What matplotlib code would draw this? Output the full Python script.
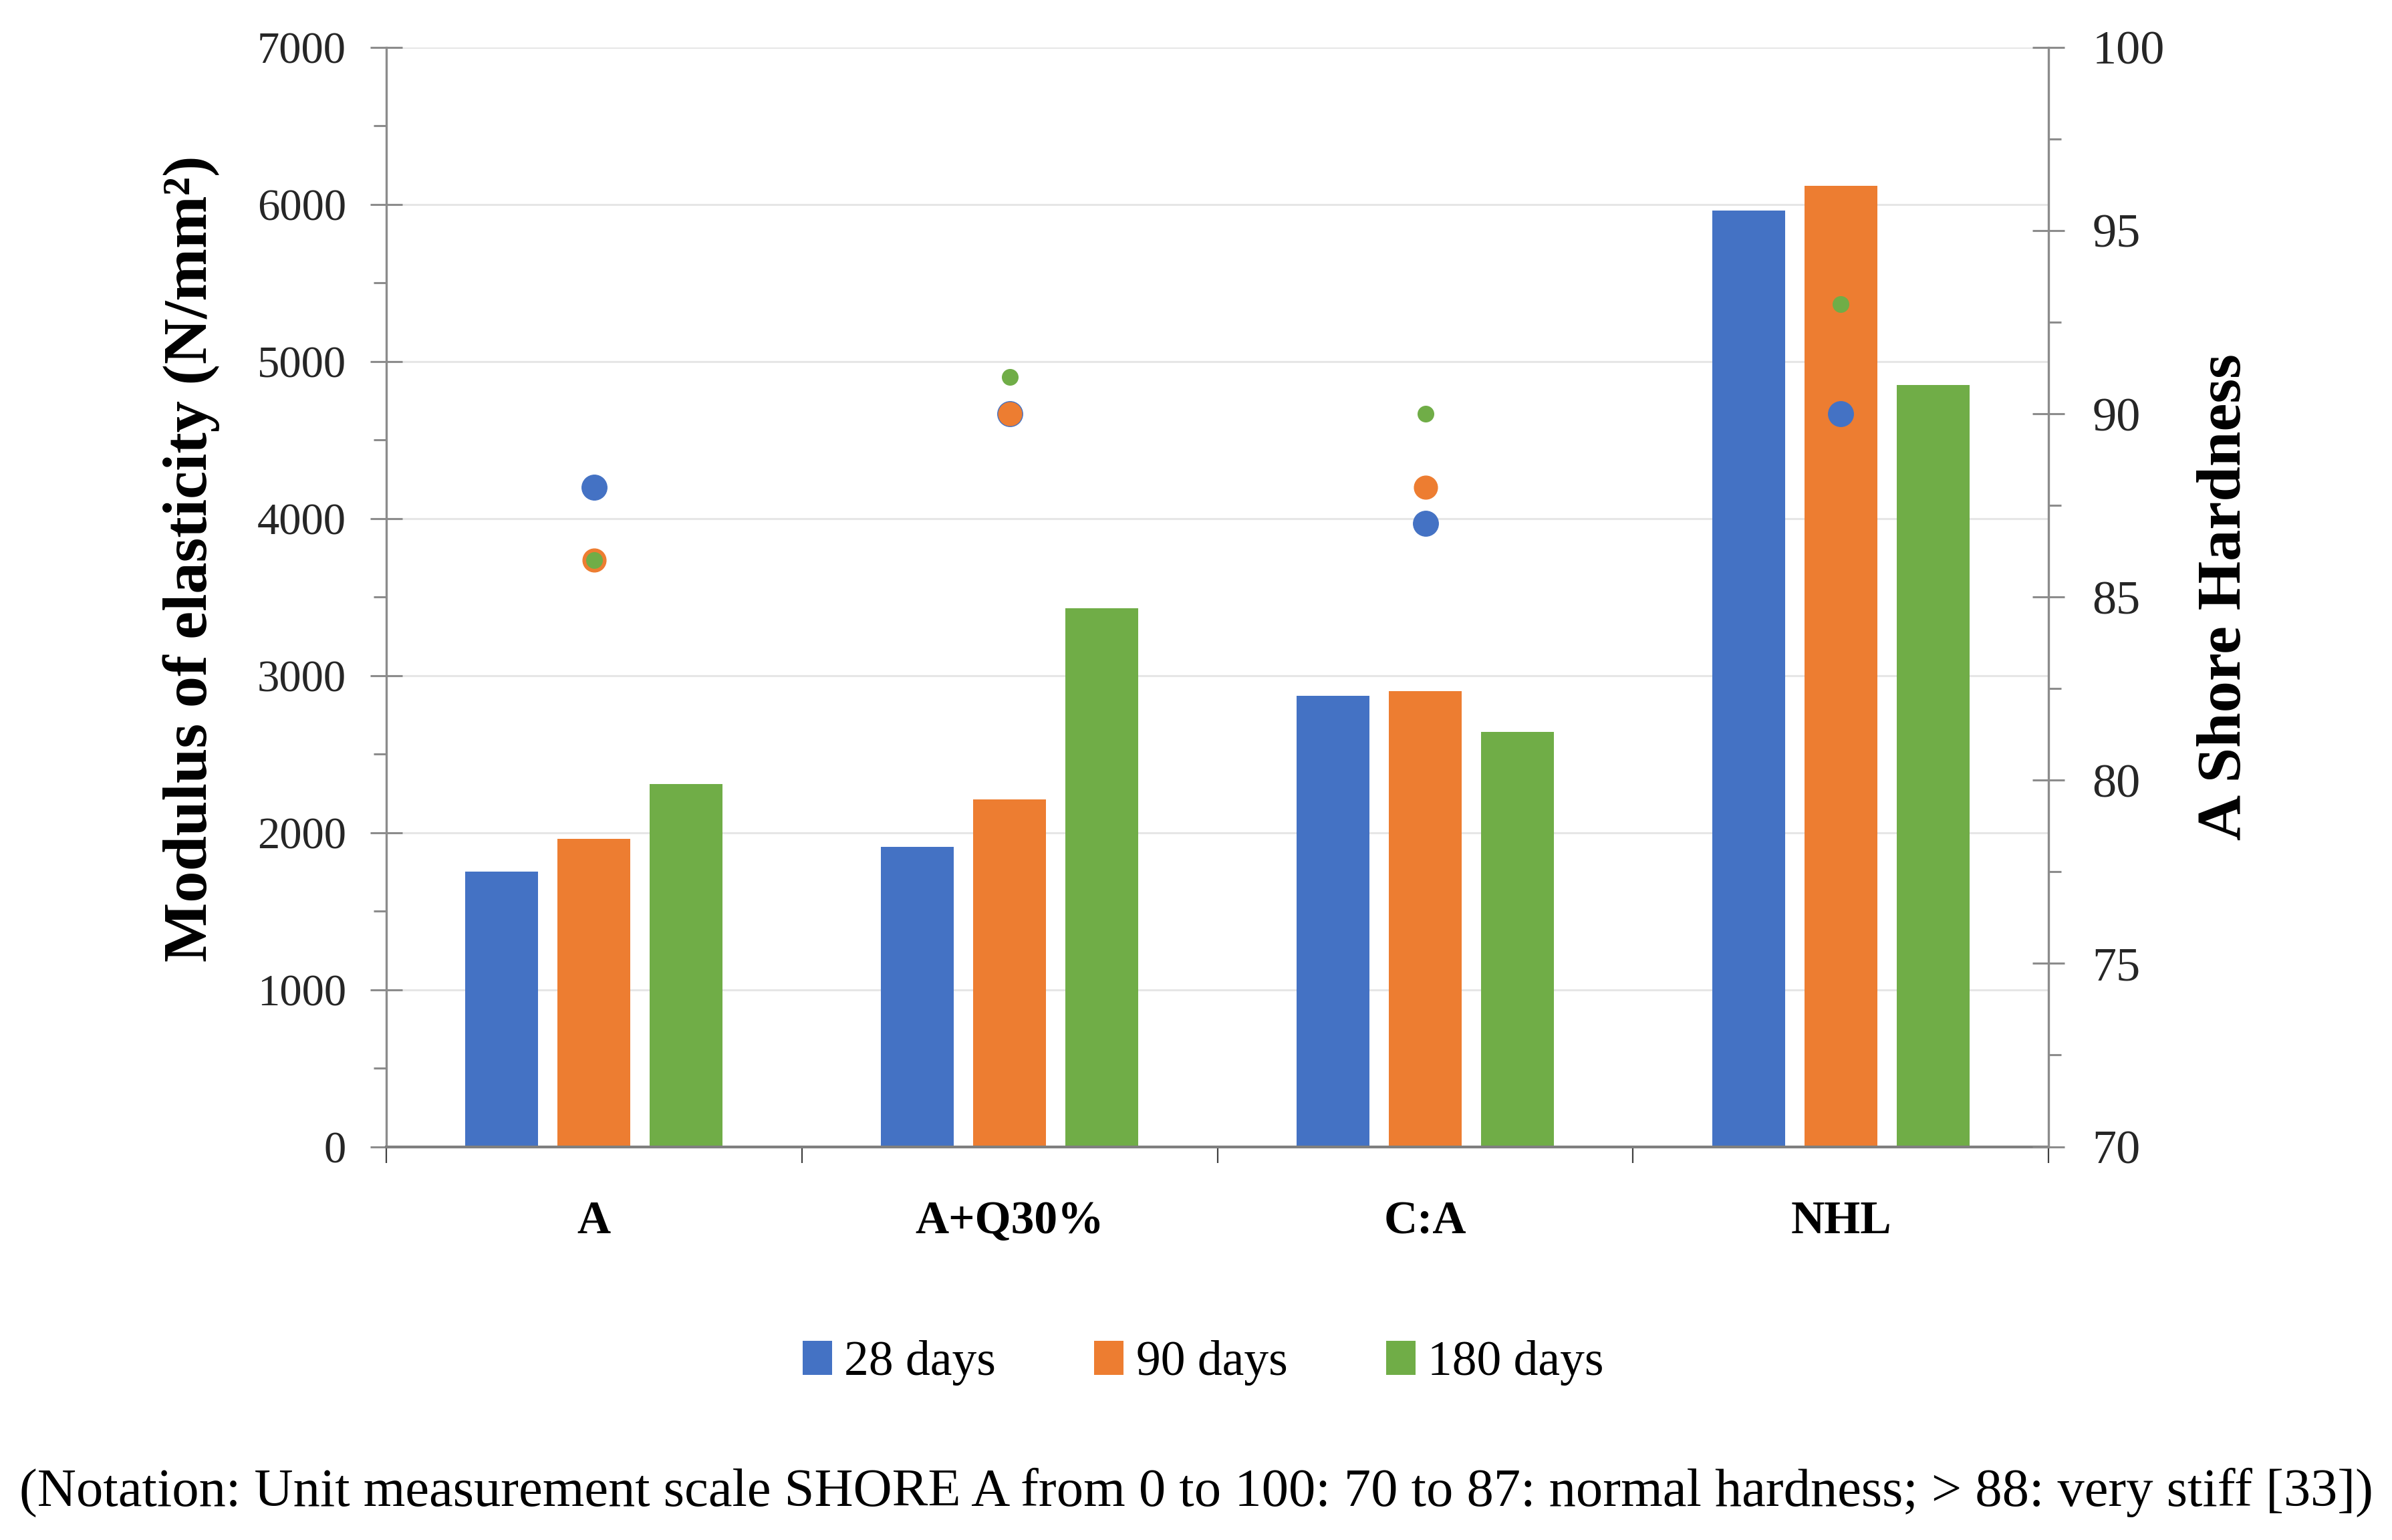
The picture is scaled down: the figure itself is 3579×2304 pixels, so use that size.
import numpy as np
import matplotlib
matplotlib.use("Agg")
import matplotlib.pyplot as plt
from matplotlib.patches import Patch
from matplotlib.ticker import MultipleLocator, FixedLocator

# ---- data ----
categories = ['A', 'A+Q30%', 'C:A', 'NHL']
series_labels = ['28 days', '90 days', '180 days']
modulus_28 = [1750, 1910, 2870, 5960]
modulus_90 = [1960, 2210, 2900, 6120]
modulus_180 = [2310, 3430, 2640, 4850]
hardness_28 = [88, 90, 87, 90]
hardness_90 = [86, 90, 88, 93]
hardness_180 = [86, 91, 90, 93]
left_ticks = [0, 1000, 2000, 3000, 4000, 5000, 6000, 7000]
right_ticks = [70, 75, 80, 85, 90, 95, 100]
note = "(Notation: Unit measurement scale SHORE A from 0 to 100: 70 to 87: normal hardness; > 88: very stiff [33])"

colors = ['#4472C4', '#ED7D31', '#70AD47']
axis_gray = '#8C8C8C'
text_col = '#262626'

plt.rcParams['font.family'] = ['Liberation Serif', 'DejaVu Serif']

fig = plt.figure(figsize=(35.79, 23.04), dpi=100)
ax = fig.add_axes([0.1614, 0.2554, 0.8565 - 0.1614, 0.9693 - 0.2554])

x = np.arange(len(categories))
offsets = [-0.222, 0.0, 0.222]
width = 0.176
mods = [modulus_28, modulus_90, modulus_180]
for off, vals, c in zip(offsets, mods, colors):
    ax.bar(x + off, vals, width=width, color=c, zorder=2)

ax.set_xlim(-0.5, len(categories) - 0.5)
ax.set_ylim(0, 7000)
ax.yaxis.set_major_locator(FixedLocator(left_ticks))
ax.yaxis.set_minor_locator(MultipleLocator(500))
ax.grid(axis='y', which='major', color='#E6E6E6', linewidth=2.2, zorder=0)
ax.set_axisbelow(True)

ax.set_xticks(x)
ax.set_xticklabels(categories, fontsize=50, fontweight='bold', color='black')
ax.xaxis.set_minor_locator(FixedLocator(np.arange(-0.5, len(categories), 1.0)))
ax.tick_params(axis='x', which='major', length=0, pad=58)
ax.tick_params(axis='x', which='minor', length=17, width=1.6, color='#404040', direction='out')

ax.tick_params(axis='y', which='major', direction='inout', length=34, width=2.2,
               color=axis_gray, labelsize=48, labelcolor=text_col, pad=26)
ax.tick_params(axis='y', which='minor', direction='out', length=14, width=2.2, color=axis_gray)

for s in ['top', 'right']:
    ax.spines[s].set_visible(False)
ax.spines['left'].set_color(axis_gray)
ax.spines['left'].set_linewidth(2.4)
ax.spines['bottom'].set_color('#7F7F7F')
ax.spines['bottom'].set_linewidth(3.0)
ax.spines['bottom'].set_zorder(3)

ax.set_ylabel('Modulus of elasticity (N/mm²)', fontsize=68, fontweight='bold', color='black')
ax.yaxis.set_label_coords(-0.100, 0.535)

ax2 = ax.twinx()
ax2.set_ylim(70, 100)
ax2.yaxis.set_major_locator(FixedLocator(right_ticks))
ax2.yaxis.set_minor_locator(MultipleLocator(2.5))
ax2.tick_params(axis='y', which='major', direction='inout', length=34, width=2.2,
                color=axis_gray, labelsize=52, labelcolor=text_col, pad=30)
ax2.tick_params(axis='y', which='minor', direction='out', length=14, width=2.2, color=axis_gray)
for s in ['top', 'left', 'bottom']:
    ax2.spines[s].set_visible(False)
ax2.spines['right'].set_color(axis_gray)
ax2.spines['right'].set_linewidth(2.4)

hards = [hardness_28, hardness_90, hardness_180]
msizes = [27, 25, 17]
for vals, c, ms in zip(hards, colors, msizes):
    ax2.plot(x, vals, linestyle='none', marker='o', markersize=ms,
             markerfacecolor=c, markeredgecolor=c, zorder=3)

ax2.set_ylabel('A Shore Hardness', fontsize=68, fontweight='bold', color='black')
ax2.yaxis.set_label_coords(1.089, 0.5)

handles = [Patch(facecolor=c, edgecolor='none') for c in colors]
fig.legend(handles, series_labels, loc='center', bbox_to_anchor=(0.503, 0.115),
           ncol=3, frameon=False, fontsize=53, handlelength=0.6, handleheight=0.7,
           handletextpad=0.25, columnspacing=2.0)

fig.text(0.5, 0.031, note, ha='center', va='center', fontsize=58, color='black')

fig.savefig('out.png', dpi=100)
